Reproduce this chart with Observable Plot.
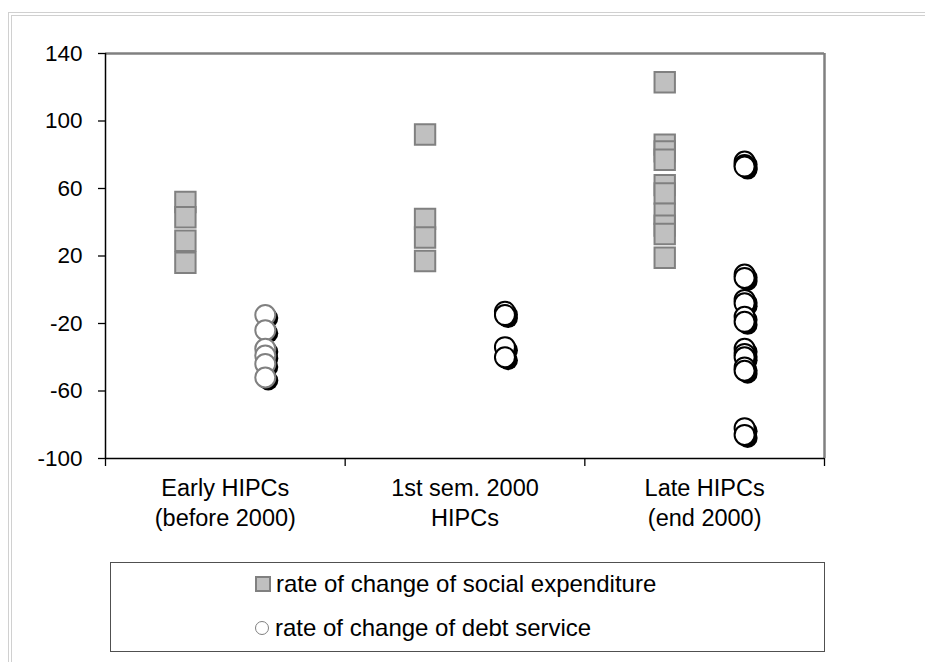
<!DOCTYPE html>
<html><head><meta charset="utf-8">
<script src="https://cdn.jsdelivr.net/npm/d3@7"></script>
<script src="https://cdn.jsdelivr.net/npm/@observablehq/plot@0.6"></script>
<style>
body{margin:0;background:#fff;font-family:"Liberation Sans",Arial,sans-serif;}
#wrap{position:relative;width:925px;height:662px;overflow:hidden;}
#frame{position:absolute;left:8px;top:12px;width:1000px;height:700px;border-left:4px double #d0d0d0;border-top:4px double #d0d0d0;}
#chart{position:absolute;left:0;top:0;}
#legend{position:absolute;left:110px;top:562px;width:713px;height:88px;border:1.5px solid #505050;background:#fff;}
.item{position:absolute;left:144px;height:30px;display:flex;align-items:center;font-size:24px;color:#000;white-space:nowrap;}
.sq{width:12px;height:12px;border:2px solid #808080;background:#c0c0c0;margin-right:5px;flex:none;}
.ci{width:12px;height:12px;border:1.5px solid #808080;background:#fff;border-radius:50%;margin-right:6px;flex:none;}
</style></head>
<body>
<div id="wrap">
  <div id="frame"></div>
  <div id="chart"></div>
  <div id="legend"></div>
</div>
<script>
// ---- data ----
const categories = ["Early HIPCs\n(before 2000)", "1st sem. 2000\nHIPCs", "Late HIPCs\n(end 2000)"];
const seriesNames = ["rate of change of social expenditure", "rate of change of debt service"];
const yTicks = [-100, -60, -20, 20, 60, 100, 140];
const socialEarly = [52, 43, 29, 16];
const socialFirst = [92, 42, 31, 17];
const socialLate  = [123, 86, 82, 77, 62, 57, 45, 38, 33, 19];
const debtEarly = [-15, -24, -35, -39, -44, -52];
const debtFirst = [-13, -15, -34, -40];
const debtLate  = [76, 74, 73, 9, 7, -6, -8, -16, -19, -35, -38, -40, -46, -48, -82, -86];

const social = [socialEarly, socialFirst, socialLate];
const debt = [debtEarly, debtFirst, debtLate];

const socialRows = social.flatMap((vals, i) => vals.map(v => ({cat: i, value: v})));
const debtRows = debt.flatMap((vals, i) => [...vals].sort((a,b)=>b-a).map(v => ({cat: i, value: v})));

const xSq = d => d.cat + 1/3;
const xCi = d => d.cat + 2/3;

const circleMarks = debtRows.flatMap(d => [
  Plot.dot([d], {x: xCi, y: "value", r: 10, fill: "#000", dx: 3, dy: 3}),
  Plot.dot([d], {x: xCi, y: "value", r: 10, fill: "#fff", stroke: d.cat === 0 ? "#808080" : "#000", strokeWidth: 2})
]);

const chart = Plot.plot({
  width: 925,
  height: 540,
  marginTop: 53,
  marginLeft: 105,
  marginRight: 101,
  marginBottom: 82,
  style: {fontFamily: "Liberation Sans, Arial, sans-serif", fontSize: "22.5px", color: "#000", background: "transparent"},
  x: {domain: [0, 3]},
  y: {domain: [-100, 140]},
  marks: [
    Plot.ruleY([140], {stroke: "#808080", strokeWidth: 2.5}),
    Plot.ruleX([3], {stroke: "#808080", strokeWidth: 2.5}),
    Plot.axisY({ticks: yTicks, tickSize: 7, tickPadding: 16, tickFormat: d => String(d), label: null, stroke: "#000", strokeWidth: 1.3, fill: "#000"}),
    Plot.axisX({ticks: [0, 1, 2, 3], tickSize: 8, tickFormat: () => "", label: null, stroke: "#000", strokeWidth: 1.3}),
    Plot.axisX({ticks: [0.5, 1.5, 2.5], tickSize: 0, tickPadding: 16, lineHeight: 1.28, fontSize: 23.5, tickFormat: d => categories[Math.floor(d)], label: null, fill: "#000"}),
    Plot.ruleX([0], {stroke: "#000", strokeWidth: 1.5}),
    Plot.ruleY([-100], {stroke: "#000", strokeWidth: 1.5}),
    Plot.dot(socialRows, {x: xSq, y: "value", symbol: "square", r: 11.5, fill: "#c0c0c0", stroke: "#808080", strokeWidth: 2}),
    ...circleMarks
  ]
});
document.getElementById("chart").appendChild(chart);

const legend = document.getElementById("legend");
seriesNames.forEach((name, i) => {
  const item = document.createElement("div");
  item.className = "item";
  item.style.top = (i === 0 ? 6 : 50) + "px";
  const sw = document.createElement("span");
  sw.className = i === 0 ? "sq" : "ci";
  item.appendChild(sw);
  item.appendChild(document.createTextNode(name));
  legend.appendChild(item);
});
</script>
</body></html>
